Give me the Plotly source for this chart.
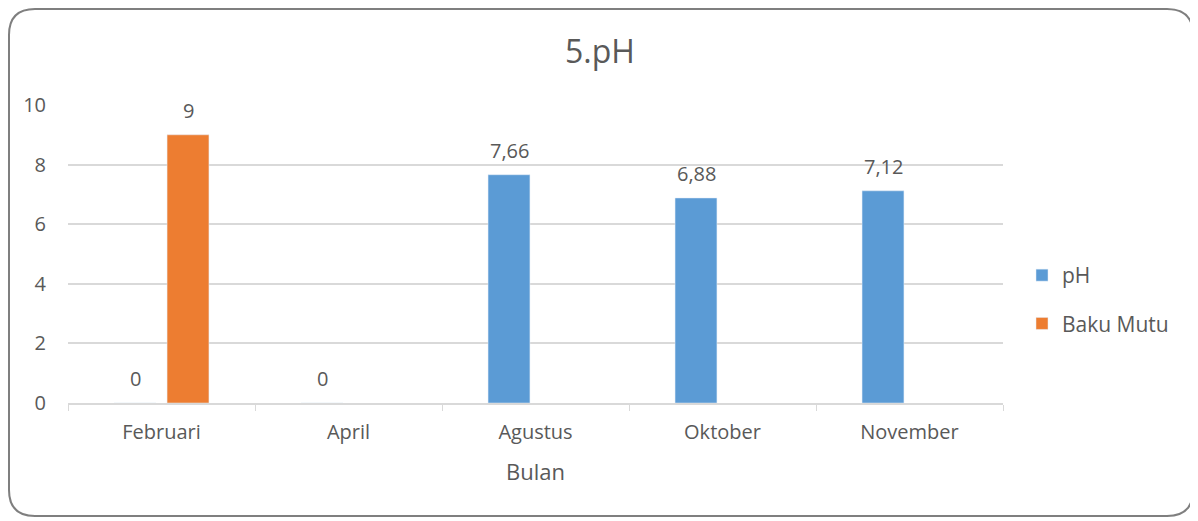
import plotly.graph_objects as go

categories = ["Februari", "April", "Agustus", "Oktober", "November"]
ph_values = [0, 0, 7.66, 6.88, 7.12]
baku_mutu = [9, None, None, None, None]
y_ticks = [0, 2, 4, 6, 8, 10]

def fmt(v):
    return f"{v:g}".replace(".", ",")

OFF = 8  # page body margin
W, H = 1198 - OFF, 521 - OFF
L, R, T, B = 68, 1003, 105, 403  # plot area in page pixels
TXT = "#595959"
FONT = "Open Sans, Liberation Sans, sans-serif"

fig = go.Figure()
fig.add_trace(go.Bar(name="pH", x=categories, y=ph_values,
                     marker_color="#5B9BD5", legendgroup="a"))
fig.add_trace(go.Bar(name="Baku Mutu", x=categories, y=baku_mutu,
                     marker_color="#ED7D31", legendgroup="b"))

annotations = []
for vals, shift in ((ph_values, -26.5), (baku_mutu, 26.5)):
    for c, v in zip(categories, vals):
        if v is None:
            continue
        annotations.append(dict(x=c, y=v, xref="x", yref="y", text=fmt(v),
                                showarrow=False, xanchor="center", yanchor="bottom",
                                xshift=shift, yshift=9,
                                font=dict(size=20, color=TXT, family=FONT)))

def px(x):
    return (x - L) / (R - L)

def py(y):
    return (B - y) / (B - T)

# rounded border path (page coords, clamped to figure)
x0, x1, y0, y1, r = OFF + 1, 1193, OFF + 1, 516, 26
path = (f"M {px(x0+r)} {py(y0)} L {px(x1-r)} {py(y0)} Q {px(x1)} {py(y0)} {px(x1)} {py(y0+r)} "
        f"L {px(x1)} {py(y1-r)} Q {px(x1)} {py(y1)} {px(x1-r)} {py(y1)} "
        f"L {px(x0+r)} {py(y1)} Q {px(x0)} {py(y1)} {px(x0)} {py(y1-r)} "
        f"L {px(x0)} {py(y0+r)} Q {px(x0)} {py(y0)} {px(x0+r)} {py(y0)} Z")

fig.update_layout(
    width=W, height=H,
    margin=dict(l=L - OFF, r=W - (R - OFF), t=T - OFF, b=H - (B - OFF)),
    paper_bgcolor="white", plot_bgcolor="white",
    font=dict(family=FONT, color=TXT),
    title=dict(text="5.pH", x=(600 - OFF) / W, xref="container", xanchor="center",
               y=1 - (52 - OFF) / H, yref="container", yanchor="middle",
               font=dict(size=32, color=TXT)),
    bargap=0.433, bargroupgap=0.21,
    showlegend=True,
    legend=dict(x=px(1022), xanchor="left", y=py(255), yanchor="top",
                font=dict(size=21, color=TXT), tracegroupgap=18,
                itemwidth=30, bgcolor="rgba(0,0,0,0)"),
    annotations=annotations,
    shapes=[dict(type="path", path=path, xref="paper", yref="paper",
                 line=dict(color="#7f7f7f", width=2), layer="above")],
)
fig.update_xaxes(
    showgrid=False, showline=True, linecolor="#d9d9d9", linewidth=1.5,
    ticks="outside", tickson="boundaries", ticklen=6, tickcolor="#d9d9d9",
    tickfont=dict(size=20, color=TXT), ticklabelstandoff=10,
    title=dict(text="Bulan", font=dict(size=22, color=TXT), standoff=21))
fig.update_yaxes(
    range=[0, 10], tickvals=y_ticks, showgrid=True, gridcolor="#d9d9d9",
    gridwidth=1.5, zeroline=False, showline=False,
    tickfont=dict(size=20, color=TXT), ticklabelstandoff=21)

fig.write_html("out.html")
